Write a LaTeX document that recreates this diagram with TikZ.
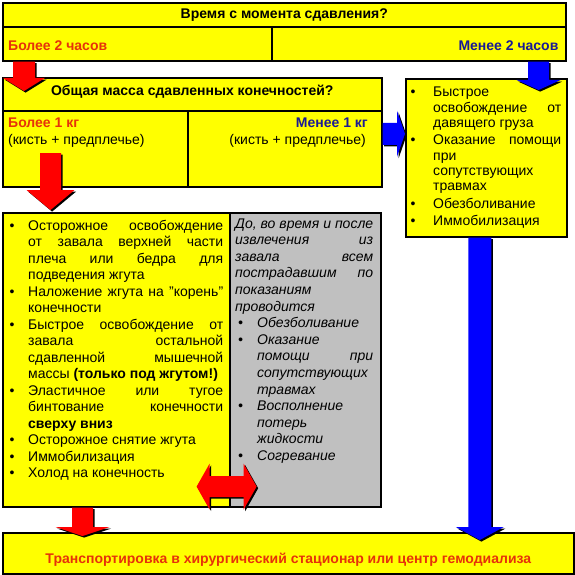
\documentclass[tikz,border=0pt]{standalone}
\usepackage{fontspec}
\setmainfont{Liberation Sans}
\usetikzlibrary{calc}
\definecolor{byellow}{RGB}{255,255,0}
\definecolor{bgray}{RGB}{192,192,192}
\definecolor{ared}{RGB}{255,0,0}
\definecolor{ablue}{RGB}{0,0,255}
\definecolor{tred}{RGB}{230,50,10}
\definecolor{tblue}{RGB}{25,25,150}
\newlength{\hangw}\newlength{\bulx}
\newcommand{\bitem}[1]{\par\noindent\hangindent=\hangw\hangafter=1\hbox to \hangw{\hskip\bulx\textbullet\hss}#1}
\newcommand{\listsetup}{\tolerance=10000\hbadness=10000\hfuzz=20pt\parindent=0pt\parskip=0pt\rightskip=0pt\leftskip=0pt}
% vertical block arrow: start, tip, shaft half, head half, head length, colour
\newcommand{\varrow}[6]{%
 \foreach \sd/\col in {1.6/black,0/#6}{%
 \fill[\col] let \p1=#1, \p2=#2 in
  (\x1-#3pt+\sd pt,\y1-\sd pt) -- (\x1+#3pt+\sd pt,\y1-\sd pt) -- (\x1+#3pt+\sd pt,\y2+#5pt-\sd pt)
  -- (\x1+#4pt+\sd pt,\y2+#5pt-\sd pt) -- (\x1+\sd pt,\y2-\sd pt) -- (\x1-#4pt+\sd pt,\y2+#5pt-\sd pt)
  -- (\x1-#3pt+\sd pt,\y2+#5pt-\sd pt) -- cycle;}}
% horizontal block arrow (to the right)
\newcommand{\harrow}[6]{%
 \foreach \sd/\col in {1.6/black,0/#6}{%
 \fill[\col] let \p1=#1, \p2=#2 in
  (\x1+\sd pt,\y1+#3pt-\sd pt) -- (\x2-#5pt+\sd pt,\y1+#3pt-\sd pt) -- (\x2-#5pt+\sd pt,\y1+#4pt-\sd pt)
  -- (\x2+\sd pt,\y1-\sd pt) -- (\x2-#5pt+\sd pt,\y1-#4pt-\sd pt) -- (\x2-#5pt+\sd pt,\y1-#3pt-\sd pt)
  -- (\x1+\sd pt,\y1-#3pt-\sd pt) -- cycle;}}
% double block arrow: left tip, right tip
\newcommand{\darrow}[6]{%
 \foreach \sd/\col in {1.6/black,0/#6}{%
 \fill[\col] let \p1=#1, \p2=#2 in
  (\x1+\sd pt,\y1-\sd pt) -- (\x1+#5pt+\sd pt,\y1+#4pt-\sd pt) -- (\x1+#5pt+\sd pt,\y1+#3pt-\sd pt)
  -- (\x2-#5pt+\sd pt,\y1+#3pt-\sd pt) -- (\x2-#5pt+\sd pt,\y1+#4pt-\sd pt) -- (\x2+\sd pt,\y1-\sd pt)
  -- (\x2-#5pt+\sd pt,\y1-#4pt-\sd pt) -- (\x2-#5pt+\sd pt,\y1-#3pt-\sd pt)
  -- (\x1+#5pt+\sd pt,\y1-#3pt-\sd pt) -- (\x1+#5pt+\sd pt,\y1-#4pt-\sd pt) -- cycle;}}
\begin{document}
\begin{tikzpicture}[x=1pt,y=-1pt,
  cell/.style={draw=black, line width=1.6pt, inner sep=0pt, anchor=north west},
  lbl/.style={inner sep=0pt, font=\bfseries\fontsize{14}{16}\selectfont},
  plain/.style={inner sep=0pt, font=\fontsize{14}{16}\selectfont},
  txt/.style={inner sep=0pt, anchor=base west}]
\useasboundingbox (0,0) rectangle (575,575);
% boxes
\node[cell, fill=byellow, minimum width=563pt, minimum height=24pt] (thead) at (2,2) {};
\node[cell, fill=byellow, minimum width=269pt, minimum height=34pt] (tL) at (2,26) {};
\node[cell, fill=byellow, minimum width=294pt, minimum height=34pt] (tR) at (271,26) {};
\node[cell, fill=byellow, minimum width=379pt, minimum height=33pt] (mhead) at (2,77) {};
\node[cell, fill=byellow, minimum width=185pt, minimum height=76pt] (mL) at (2,110) {};
\node[cell, fill=byellow, minimum width=194pt, minimum height=76pt] (mR) at (187,110) {};
\node[cell, fill=byellow, minimum width=161pt, minimum height=158pt] (rbox) at (405,78) {};
\node[cell, fill=byellow, minimum width=227pt, minimum height=294pt] (lbox) at (2,212) {};
\node[cell, fill=bgray, minimum width=151pt, minimum height=294pt] (gbox) at (229,212) {};
\node[cell, fill=byellow, minimum width=571pt, minimum height=41pt] (bbox) at (2,532) {};
% labels
\node[lbl] (ttitle) at (thead.center) {Время с момента сдавления?};
\node[lbl, text=tred, anchor=west] (t2more) at ([xshift=6pt,yshift=-2pt]tL.west) {Более 2 часов};
\node[lbl, text=tblue, anchor=east] (t2less) at ([xshift=-8pt,yshift=-2pt]tR.east) {Менее 2 часов};
\node[lbl] (mtitle) at ([yshift=3pt]mhead.center) {Общая масса сдавленных конечностей?};
\node[lbl, text=tred, anchor=base west] (m1more) at (8,128) {Более 1 кг};
\node[plain, anchor=base west] (m1morep) at (8,144) {(кисть + предплечье)};
\node[lbl, text=tblue, anchor=base east] (m1less) at (368,128) {Менее 1 кг};
\node[plain, anchor=base east] (m1lessp) at (366,144) {(кисть + предплечье)};
\node[lbl, text=tred] (btext) at ([yshift=-6pt]bbox.center) {Транспортировка в хирургический стационар или центр гемодиализа};
% left list
\node[txt] (ltext) at (8,230) {\setlength{\hangw}{20pt}\setlength{\bulx}{1.5pt}\parbox[t]{215pt}{\listsetup\fontsize{14}{16.5}\selectfont
\bitem{Осторожное освобождение\linebreak от завала верхней части\linebreak плеча или бедра для\linebreak подведения жгута}
\bitem{Наложение жгута на "корень"\linebreak конечности}
\bitem{Быстрое освобождение от\linebreak завала остальной\linebreak сдавленной мышечной\linebreak массы \textbf{(только под жгутом!)}}
\bitem{Эластичное или тугое\linebreak бинтование конечности\linebreak \textbf{сверху вниз}}
\bitem{Осторожное снятие жгута}
\bitem{Иммобилизация}
\bitem{Холод на конечность}}};
% grey list
\node[txt] (gtext) at (235,228) {\setlength{\hangw}{22pt}\setlength{\bulx}{3pt}\parbox[t]{138pt}{\listsetup\fontsize{14}{16.6}\selectfont\itshape
\noindent До, во время и после\linebreak извлечения из\linebreak завала всем\linebreak пострадавшим по\linebreak показаниям\linebreak проводится
\bitem{Обезболивание}
\bitem{Оказание\linebreak помощи при\linebreak сопутствующих\linebreak травмах}
\bitem{Восполнение\linebreak потерь\linebreak жидкости}
\bitem{Согревание}}};
% right list
\node[txt] (rtext) at (408,97) {\setlength{\hangw}{25pt}\setlength{\bulx}{2.5pt}\parbox[t]{153pt}{\listsetup\fontsize{14}{15.3}\selectfont\parskip=2pt
\bitem{Быстрое\linebreak освобождение от\linebreak давящего груза}
\bitem{Оказание помощи\linebreak при\linebreak сопутствующих\linebreak травмах}
\bitem{Обезболивание}
\bitem{Иммобилизация}}};
% block arrows
\varrow{([xshift=22pt]tL.south west)}{([yshift=-14pt]mhead.north)}{11}{21}{13}{ared}
\varrow{([xshift=-28pt]tR.south east)}{([yshift=-12pt]rbox.north)}{10.5}{22}{10}{ablue}
\varrow{([xshift=48.5pt,yshift=-43pt]mL.north west)}{([yshift=2pt]lbox.north)}{10.5}{24}{20}{ared}
\harrow{([yshift=15pt]mR.east)}{(rbox.west)}{11}{23}{8}{ablue}
\varrow{([xshift=-6.5pt]rbox.south)}{([yshift=-8pt]bbox.north)}{11.5}{24}{13}{ablue}
\varrow{([xshift=80.5pt]lbox.south west)}{([yshift=-4pt]bbox.north)}{10.5}{27}{9}{ared}
\darrow{([xshift=-34pt,yshift=21pt]lbox.south east)}{([xshift=26pt,yshift=21pt]lbox.south east)}{10.5}{23}{13}{ared}
\end{tikzpicture}
\end{document}
